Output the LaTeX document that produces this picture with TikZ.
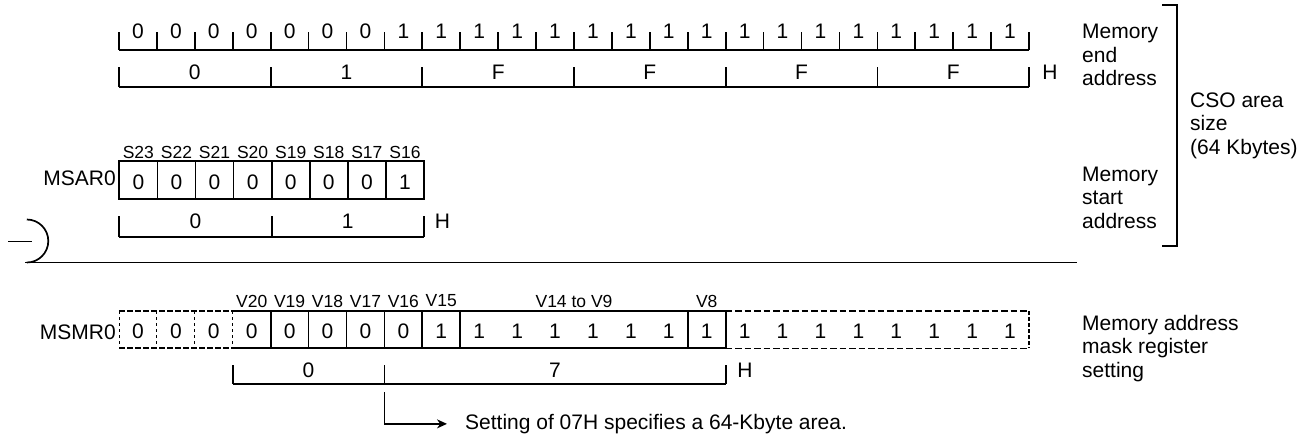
\documentclass[tikz,border=0pt]{standalone}
\usepackage{fontspec}
\setmainfont{Liberation Sans}
\usetikzlibrary{arrows.meta}
\begin{document}
\begin{tikzpicture}[x=1pt,y=-1pt,
  ln/.style={line width=1.7pt},
  txt/.style={font=\fontsize{21}{23.5}\selectfont, inner sep=0pt},
  lbl/.style={font=\fontsize{17.5}{20}\selectfont, inner sep=0pt},
  para/.style={txt, align=left, anchor=north west},
  dthick/.style={line width=1.7pt, dash pattern=on 6pt off 2pt},
  dthin/.style={line width=1pt, dash pattern=on 3pt off 3pt},
  dlight/.style={line width=1.2pt, dash pattern=on 6.5pt off 3pt},
  dedge/.style={line width=2pt, dash pattern=on 4pt off 2pt}]
\useasboundingbox (0,0) rectangle (1312,439);
\def\bw{37.917}
% ---------- memory end address ----------
\draw[ln] (119,50) -- (1029,50);
\foreach \i in {0,...,24} \draw[ln] ({119+\i*\bw},32) -- ({119+\i*\bw},50);
\foreach \d [count=\i from 0] in {0,0,0,0,0,0,0,1,1,1,1,1,1,1,1,1,1,1,1,1,1,1,1,1}
  \node[txt] (e\i) at ({119+(\i+0.5)*\bw},31.7) {\d};
\draw[ln] (119,87) -- (1029,87);
\foreach \i in {0,...,6} \draw[ln] ({119+\i*4*\bw},67) -- ({119+\i*4*\bw},87);
\foreach \h [count=\i from 0] in {0,1,F,F,F,F}
  \node[txt] (eh\i) at ({119+(\i*4+2)*\bw},72.5) {\h};
\node[txt] (eH) at (1050,72.5) {H};
% ---------- MSAR0 ----------
\def\mw{38.0875}
\draw[ln] (119.3,160.7) rectangle (424,199.3);
\foreach \i in {1,...,7} \draw[ln] ({119.3+\i*\mw},160.7) -- ({119.3+\i*\mw},199.3);
\foreach \d [count=\i from 0] in {0,0,0,0,0,0,0,1}
  \node[txt] (s\i) at ({119.3+(\i+0.5)*\mw},182) {\d};
\foreach \l [count=\i from 0] in {S23,S22,S21,S20,S19,S18,S17,S16}
  \node[lbl] (sl\i) at ({119.3+(\i+0.5)*\mw},152) {\l};
\node[txt, anchor=east] (msar) at (116,178) {MSAR0};
\draw[ln] (119.3,236.7) -- (424,236.7);
\foreach \x in {119.3,271.65,424} \draw[ln] (\x,216) -- (\x,236.7);
\node[txt] (sh0) at (195.5,221) {0};
\node[txt] (sh1) at (347.8,221) {1};
\node[txt] (sH) at (442.5,221) {H};
% ---------- break line ----------
\draw[ln] (8,241.5) -- (32,241.5);
\draw[ln] (26.8,219.5) arc[start angle=-90, end angle=90, radius=21.5];
\draw[ln] (25,262.5) -- (1077,262.5);
% ---------- bracket ----------
\draw[ln] (1162,5) -- (1177,5) -- (1177,246) -- (1162,246);
\node[para] (endaddr) at (1082,24) {Memory\\end\\address};
\node[para] (staddr) at (1082,166.5) {Memory\\start\\address};
\node[para] (cso) at (1190,92.5) {CSO area\\size\\(64 Kbytes)};
\node[para] (mask) at (1082,315) {Memory address\\mask register\\setting};
% ---------- MSMR0 ----------
\def\yt{311}\def\yb{348.3}
\draw[dthick] (119,\yt) -- ({119+3*\bw},\yt);
\draw[dthick] (119,\yb) -- ({119+3*\bw},\yb);
\foreach \i in {0,...,3} \draw[dthin] ({119+\i*\bw},\yt) -- ({119+\i*\bw},\yb);
\draw[ln] ({119+3*\bw},\yt) -- ({119+16*\bw},\yt) -- ({119+16*\bw},\yb) -- ({119+3*\bw},\yb);
\foreach \i in {4,...,9,15} \draw[ln] ({119+\i*\bw},\yt) -- ({119+\i*\bw},\yb);
\draw[dlight] ({119+16*\bw},\yt) -- (1029,\yt);
\draw[dlight] ({119+16*\bw},\yb) -- (1029,\yb);
\draw[dedge] (1029,\yt) -- (1029,\yb);
\foreach \d [count=\i from 0] in {0,0,0,0,0,0,0,0,1,1,1,1,1,1,1,1,1,1,1,1,1,1,1,1}
  \node[txt] (m\i) at ({119+(\i+0.5)*\bw},331.5) {\d};
\foreach \l [count=\i from 3] in {V20,V19,V18,V17,V16,V15}
  \node[lbl] (vl\i) at ({119+(\i+0.5)*\bw},301) {\l};
\node[lbl] (vmid) at ({119+12*\bw},301) {V14 to V9};
\node[lbl] (v8) at ({119+15.5*\bw},301) {V8};
\node[txt, anchor=east] (msmr) at (116,332) {MSMR0};
\draw[ln] ({119+3*\bw},384) -- ({119+16*\bw},384);
\foreach \i in {3,7,16} \draw[ln] ({119+\i*\bw},365) -- ({119+\i*\bw},384);
\node[txt] (mh0) at ({119+5*\bw},370.5) {0};
\node[txt] (mh7) at ({119+11.5*\bw},370.5) {7};
\node[txt] (mH) at (745,370.5) {H};
% ---------- note ----------
\node[txt, anchor=base west] (note) at (465,429.3) {Setting of 07H specifies a 64-Kbyte area.};
\coordinate (a0) at ({119+7*\bw},392);
\draw[ln, -{Stealth[length=10pt,width=9pt]}] (a0) |- ([xshift=-18pt]note.west);
\end{tikzpicture}
\end{document}
